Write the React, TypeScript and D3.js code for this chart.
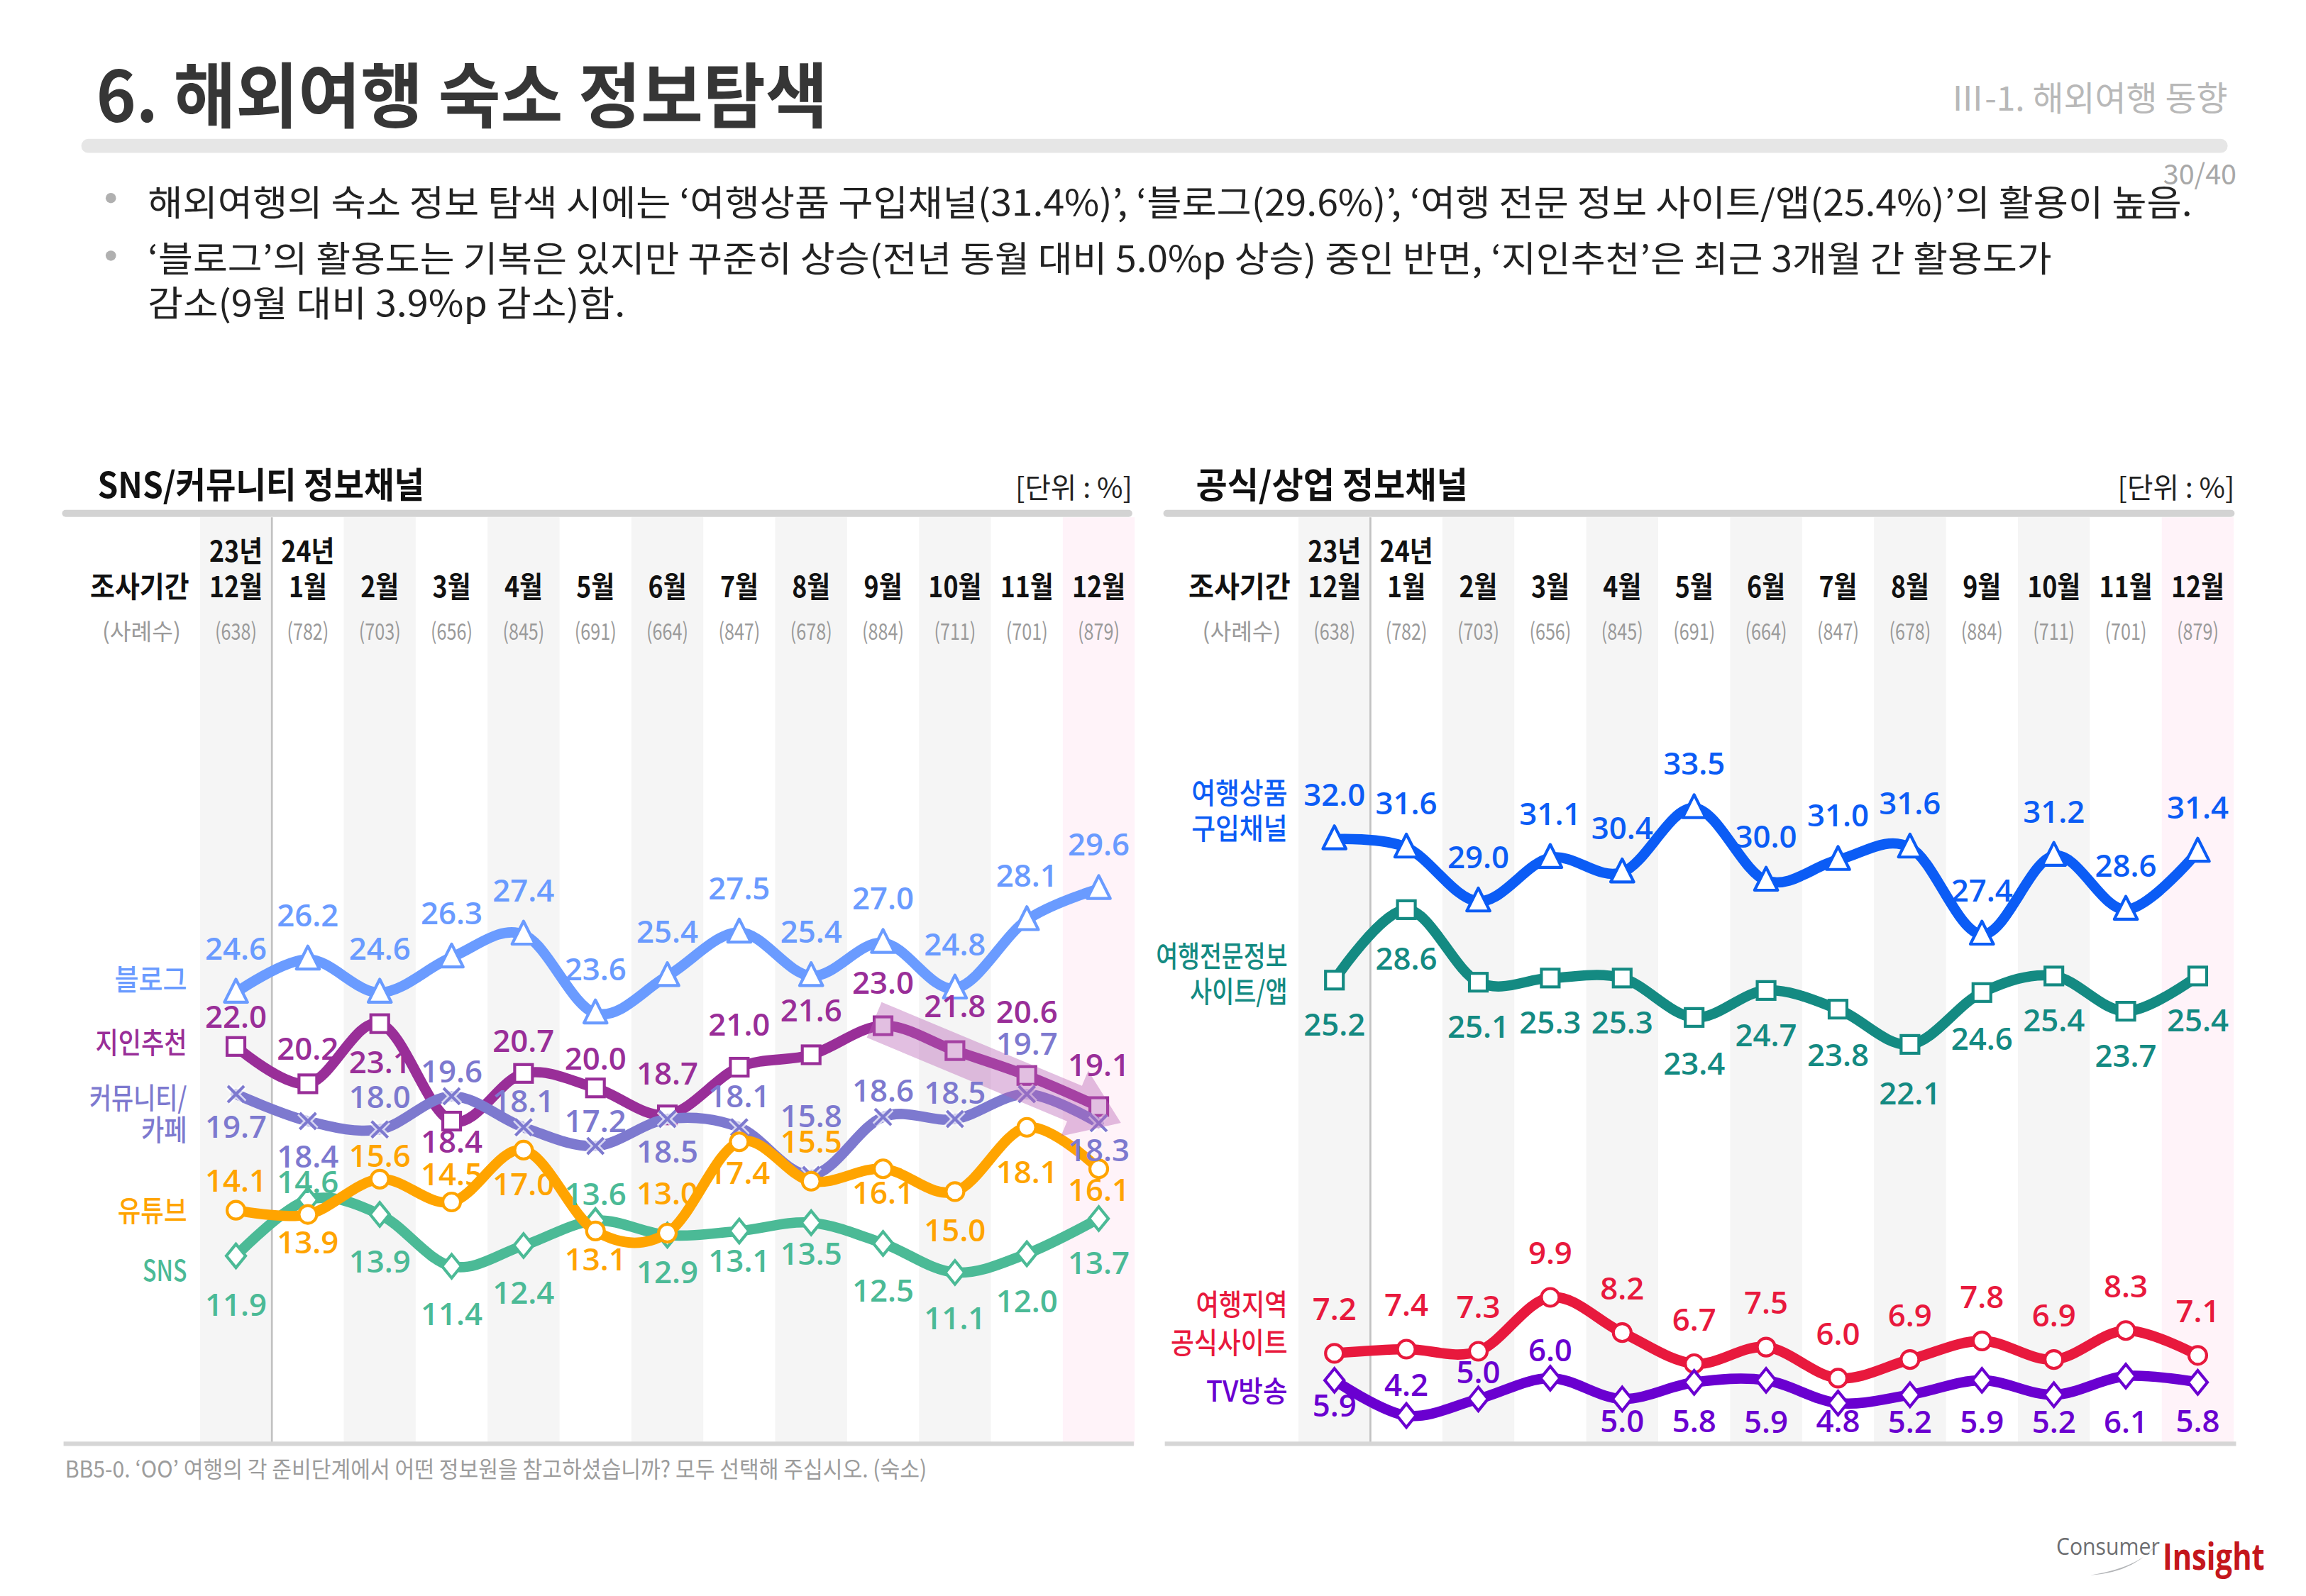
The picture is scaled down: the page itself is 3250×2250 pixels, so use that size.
import React from 'react'
import * as d3 from 'd3'

// survey months and sample sizes
const months = ['12월', '1월', '2월', '3월', '4월', '5월', '6월', '7월', '8월', '9월', '10월', '11월', '12월']
const years = ['23년', '24년']
const samples = [638, 782, 703, 656, 845, 691, 664, 847, 678, 884, 711, 701, 879]

// SNS/커뮤니티 정보채널 (%)
const blog = [24.6, 26.2, 24.6, 26.3, 27.4, 23.6, 25.4, 27.5, 25.4, 27.0, 24.8, 28.1, 29.6]
const referral = [22.0, 20.2, 23.1, 18.4, 20.7, 20.0, 18.7, 21.0, 21.6, 23.0, 21.8, 20.6, 19.1]
const community = [19.7, 18.4, 18.0, 19.6, 18.1, 17.2, 18.5, 18.1, 15.8, 18.6, 18.5, 19.7, 18.3]
const youtube = [14.1, 13.9, 15.6, 14.5, 17.0, 13.1, 13.0, 17.4, 15.5, 16.1, 15.0, 18.1, 16.1]
const sns = [11.9, 14.6, 13.9, 11.4, 12.4, 13.6, 12.9, 13.1, 13.5, 12.5, 11.1, 12.0, 13.7]

// 공식/상업 정보채널 (%)
const travelProduct = [32.0, 31.6, 29.0, 31.1, 30.4, 33.5, 30.0, 31.0, 31.6, 27.4, 31.2, 28.6, 31.4]
const travelSite = [25.2, 28.6, 25.1, 25.3, 25.3, 23.4, 24.7, 23.8, 22.1, 24.6, 25.4, 23.7, 25.4]
const regionSite = [7.2, 7.4, 7.3, 9.9, 8.2, 6.7, 7.5, 6.0, 6.9, 7.8, 6.9, 8.3, 7.1]
const tvShow = [5.9, 4.2, 5.0, 6.0, 5.0, 5.8, 5.9, 4.8, 5.2, 5.9, 5.2, 6.1, 5.8]

const KR = '"Noto Sans CJK KR", "Noto Sans", sans-serif'
const NUM = '"Open Sans", "Noto Sans", sans-serif'

type Marker = 'triangle' | 'square' | 'cross' | 'circle' | 'diamond'

interface Series {
  values: number[]
  color: string
  marker: Marker
  dy: number[] // label offset from the point (px)
  legend: string[]
  legendY: number[]
  legendW: number[]
}

const all = (n: number) => months.map(() => n)

const leftSeries: Series[] = [
  { values: blog, color: '#6a9bff', marker: 'triangle', dy: all(-30), legend: ['블로그'], legendY: [663], legendW: [49] },
  {
    values: referral, color: '#992e98', marker: 'square',
    dy: [-20, -24, 26, 14, -22, -20, -28, -29, -30, -29, -30, -43, -28],
    legend: ['지인추천'], legendY: [706], legendW: [62],
  },
  {
    values: community, color: '#7d79cf', marker: 'cross',
    dy: [22, 24, -22, -17, -18, -17, 22, -21, -40, -18, -18, -34, 18],
    legend: ['커뮤니티/', '카페'], legendY: [743, 765], legendW: [66, 31],
  },
  {
    values: sns, color: '#4bba96', marker: 'diamond',
    dy: [33, -12, 32, 32, 32, -18, 25, 20, 21, 32, 31, 32, 30],
    legend: ['SNS'], legendY: [860], legendW: [30],
  },
  {
    values: youtube, color: '#ffa400', marker: 'circle',
    dy: [-20, 19, -16, -19, 23, 19, -27, 21, -27, 16, 26, 30, 14],
    legend: ['유튜브'], legendY: [819.5], legendW: [47],
  },
]

const rightSeries: Series[] = [
  { values: travelProduct, color: '#0b5cf5', marker: 'triangle', dy: all(-30), legend: ['여행상품', '구입채널'], legendY: [537, 561], legendW: [65, 65] },
  {
    values: travelSite, color: '#148a82', marker: 'square',
    dy: [30, 33, 30, 30, 30, 31, 30, 31, 33, 31, 30, 30, 30],
    legend: ['여행전문정보', '사이트/앱'], legendY: [647, 671], legendW: [89, 66],
  },
  { values: regionSite, color: '#e8193d', marker: 'circle', dy: all(-30), legend: ['여행지역', '공식사이트'], legendY: [883, 909], legendW: [62, 79] },
  {
    values: tvShow, color: '#6a00d0', marker: 'diamond',
    dy: [17, -21, -18, -19, 15, 26, 28, 12, 18, 28, 18, 31, 26],
    legend: ['TV방송'], legendY: [941.6], legendW: [55],
  },
]

const y = d3.scaleLinear().domain([0, 35]).range([1016.8, 1016.8 - 35 * 14.03])
const line = d3.line<[number, number]>().curve(d3.curveCardinal.tension(0))

const MarkerShape = ({ type, x, y: cy, color }: { type: Marker; x: number; y: number; color: string }) => {
  const sw = 2
  if (type === 'triangle')
    return <polygon points={`${x},${cy - 9} ${x + 7.8},${cy + 6.5} ${x - 7.8},${cy + 6.5}`} fill="#fff" stroke={color} strokeWidth={sw} strokeLinejoin="round" />
  if (type === 'square') return <rect x={x - 6} y={cy - 6} width={12} height={12} fill="#fff" stroke={color} strokeWidth={sw} />
  if (type === 'circle') return <circle cx={x} cy={cy} r={6} fill="#fff" stroke={color} strokeWidth={sw} />
  if (type === 'diamond')
    return <polygon points={`${x},${cy - 8} ${x + 6.5},${cy} ${x},${cy + 8} ${x - 6.5},${cy}`} fill="#fff" stroke={color} strokeWidth={sw} />
  const d = `M${x - 5.5},${cy - 5.5}L${x + 5.5},${cy + 5.5}M${x + 5.5},${cy - 5.5}L${x - 5.5},${cy + 5.5}`
  return (
    <g>
      <path d={d} stroke="#fff" strokeOpacity={0.7} strokeWidth={4.5} />
      <path d={d} stroke={color} strokeWidth={2} />
    </g>
  )
}

interface PanelProps {
  start: number
  step: number
  barX0: number
  barX1: number
  title: string
  titleX: number
  titleW: number
  periodRight: number
  periodW: number
  caseX: number
  legendRight: number
  series: Series[]
  arrow?: boolean
}

const Panel = (p: PanelProps) => {
  const x = d3.scaleBand<number>().domain(d3.range(months.length)).range([p.start, p.start + months.length * p.step])
  const cx = (i: number) => x(i)! + x.bandwidth() / 2
  const top = 350
  const bottom = 978

  let arrowPath = ''
  if (p.arrow) {
    const s: [number, number] = [cx(9) - 6, y(referral[9]) - 4]
    const t: [number, number] = [cx(12) + 15, y(referral[12]) + 11]
    const dx = t[0] - s[0], dy = t[1] - s[1]
    const len = Math.hypot(dx, dy)
    const u = [dx / len, dy / len], n = [-u[1], u[0]]
    const hw = 13, hh = 24, hl = 34
    const b = [t[0] - u[0] * hl, t[1] - u[1] * hl]
    const pts = [
      [s[0] + n[0] * hw, s[1] + n[1] * hw],
      [b[0] + n[0] * hw, b[1] + n[1] * hw],
      [b[0] + n[0] * hh, b[1] + n[1] * hh],
      t,
      [b[0] - n[0] * hh, b[1] - n[1] * hh],
      [b[0] - n[0] * hw, b[1] - n[1] * hw],
      [s[0] - n[0] * hw, s[1] - n[1] * hw],
    ]
    arrowPath = 'M' + pts.map((q) => q.join(',')).join('L') + 'Z'
  }

  return (
    <g>
      {/* column stripes */}
      {months.map((_, i) =>
        i === months.length - 1 ? (
          <rect key={i} x={x(i)} y={top} width={x.bandwidth()} height={bottom - top} fill="#fff3f9" />
        ) : i % 2 === 0 ? (
          <rect key={i} x={x(i)} y={top} width={x.bandwidth()} height={bottom - top} fill="#f5f5f5" />
        ) : null
      )}
      <line x1={x(1)} x2={x(1)} y1={top} y2={976} stroke="#c2c2c2" strokeWidth={1.3} />
      <rect x={p.barX0} y={345} width={p.barX1 - p.barX0} height={4.8} rx={2.4} fill="#d3d3d3" />
      <rect x={p.barX0 + 1} y={975.5} width={p.barX1 - p.barX0} height={3} fill="#d6d6d6" />

      {/* titles */}
      <text x={p.titleX} y={337} fontFamily={KR} fontWeight={700} fontSize={24} fill="#111" textLength={p.titleW} lengthAdjust="spacingAndGlyphs">
        {p.title}
      </text>
      <text x={p.barX1} y={337} fontFamily={KR} fontSize={19} fill="#222" textAnchor="end">
        [단위 : %]
      </text>

      {/* header rows */}
      {years.map((t, i) => (
        <text key={t} transform={`translate(${cx(i)},380) scale(0.88,1)`} textAnchor="middle" fontFamily={KR} fontWeight={700} fontSize={19.5} fill="#111">
          {t}
        </text>
      ))}
      <text x={p.periodRight} y={404} textAnchor="end" fontFamily={KR} fontWeight={700} fontSize={19.5} fill="#111" textLength={p.periodW} lengthAdjust="spacingAndGlyphs">
        조사기간
      </text>
      {months.map((m, i) => (
        <text key={i} transform={`translate(${cx(i)},404) scale(0.88,1)`} textAnchor="middle" fontFamily={KR} fontWeight={700} fontSize={19.5} fill="#111">
          {m}
        </text>
      ))}
      <text x={p.caseX} y={433} textAnchor="middle" fontFamily={KR} fontSize={15.5} fill="#9a9a9a">
        (사례수)
      </text>
      {samples.map((s, i) => (
        <text key={i} transform={`translate(${cx(i)},433) scale(0.78,1)`} textAnchor="middle" fontFamily={KR} fontSize={15.5} fill="#9a9a9a">
          ({s})
        </text>
      ))}

      {/* lines and markers */}
      {p.series.map((s, k) => (
        <g key={k}>
          <path d={line(s.values.map((v, i) => [cx(i), y(v)]))!} fill="none" stroke={s.color} strokeWidth={7} strokeLinecap="round" strokeLinejoin="round" />
          {s.values.map((v, i) => (
            <MarkerShape key={i} type={s.marker} x={cx(i)} y={y(v)} color={s.color} />
          ))}
        </g>
      ))}

      {p.arrow && <path d={arrowPath} fill="#b65fb5" fillOpacity={0.4} />}

      {/* value labels */}
      {p.series.map((s, k) => (
        <g key={k}>
          {s.values.map((v, i) => (
            <text key={i} x={cx(i)} y={y(v) + s.dy[i]} dy="0.36em" textAnchor="middle" fontFamily={NUM} fontWeight={600} fontSize={21} fill={s.color}>
              {v.toFixed(1)}
            </text>
          ))}
          {s.legend.map((t, j) => (
            <text key={j} x={p.legendRight} y={s.legendY[j]} dy="0.36em" textAnchor="end" fontFamily={KR} fontWeight={500} fontSize={19.5} fill={s.color} textLength={s.legendW[j]} lengthAdjust="spacingAndGlyphs">
              {t}
            </text>
          ))}
        </g>
      ))}
    </g>
  )
}

const App: React.FC = () => {
  return (
    <svg
      width={3250}
      height={2250}
      viewBox="0 0 1560 1080"
      style={{ position: 'absolute', left: 0, top: 0, background: '#fff' }}
    >
      <rect width={1560} height={1080} fill="#fff" />

      {/* page header */}
      <text x={65} y={82.5} fontFamily={KR} fontWeight={700} fontSize={48} fill="#363636" textLength={495} lengthAdjust="spacingAndGlyphs">
        6. 해외여행 숙소 정보탐색
      </text>
      <text x={1507} y={75} textAnchor="end" fontFamily={KR} fontSize={23} fill="#b8b8b8">
        Ⅲ-1. 해외여행 동향
      </text>
      <rect x={55} y={94} width={1452} height={9.5} rx={4.7} fill="#e6e6e6" />
      <text x={1513} y={125} textAnchor="end" fontFamily={KR} fontSize={19} fill="#a8a8a8">
        30/40
      </text>

      {/* summary bullets */}
      <circle cx={75} cy={134} r={3.5} fill="#b0b0b0" />
      <circle cx={75} cy={173} r={3.5} fill="#b0b0b0" />
      <text x={100} y={146} fontFamily={KR} fontSize={24} fill="#222" textLength={1383} lengthAdjust="spacingAndGlyphs">
        해외여행의 숙소 정보 탐색 시에는 ‘여행상품 구입채널(31.4%)’, ‘블로그(29.6%)’, ‘여행 전문 정보 사이트/앱(25.4%)’의 활용이 높음.
      </text>
      <text x={100} y={184} fontFamily={KR} fontSize={24} fill="#222" textLength={1288} lengthAdjust="spacingAndGlyphs">
        ‘블로그’의 활용도는 기복은 있지만 꾸준히 상승(전년 동월 대비 5.0%p 상승) 중인 반면, ‘지인추천’은 최근 3개월 간 활용도가
      </text>
      <text x={100} y={214} fontFamily={KR} fontSize={24} fill="#222" textLength={323} lengthAdjust="spacingAndGlyphs">
        감소(9월 대비 3.9%p 감소)함.
      </text>

      <Panel
        start={135.3}
        step={48.64}
        barX0={42}
        barX1={766}
        title="SNS/커뮤니티 정보채널"
        titleX={66}
        titleW={221}
        periodRight={128}
        periodW={67}
        caseX={95.7}
        legendRight={126.5}
        series={leftSeries}
        arrow
      />
      <Panel
        start={878.4}
        step={48.67}
        barX0={787}
        barX1={1511.7}
        title="공식/상업 정보채널"
        titleX={809}
        titleW={184}
        periodRight={873}
        periodW={69}
        caseX={840}
        legendRight={871}
        series={rightSeries}
      />

      {/* footnote */}
      <text x={44} y={1000} fontFamily={KR} fontSize={15.5} fill="#9c9c9c" textLength={583} lengthAdjust="spacingAndGlyphs">
        BB5-0. ‘OO’ 여행의 각 준비단계에서 어떤 정보원을 참고하셨습니까? 모두 선택해 주십시오. (숙소)
      </text>

      {/* logo */}
      <text x={1391} y={1052} fontFamily={NUM} fontSize={16} fill="#6d6e71" textLength={70} lengthAdjust="spacingAndGlyphs">
        Consumer
      </text>
      <path d="M1414,1066 Q1446,1064 1461,1042 Q1451,1060 1414,1066 Z" fill="#b3b5b8" />
      <text x={1463} y={1062} fontFamily={NUM} fontWeight={700} fontSize={25} fill="#c4161c" textLength={69} lengthAdjust="spacingAndGlyphs">
        Insight
      </text>
    </svg>
  )
}

export default App
